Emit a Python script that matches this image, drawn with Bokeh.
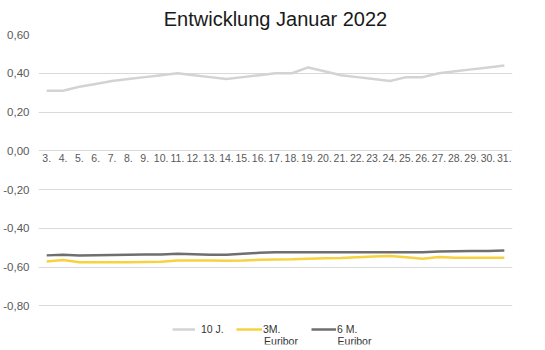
from bokeh.plotting import figure
from bokeh.models import FixedTicker, Legend, LegendItem, Label
from bokeh.core.properties import value
from bokeh.embed import file_html
from bokeh.resources import INLINE

days = [f"{d}." for d in range(3, 32)]
zehn_j = [0.31, 0.31, 0.33, 0.345, 0.36, 0.37, 0.38, 0.39, 0.40, 0.39, 0.38, 0.37, 0.38, 0.39,
          0.40, 0.40, 0.43, 0.41, 0.39, 0.38, 0.37, 0.36, 0.38, 0.38, 0.40, 0.41, 0.42, 0.43, 0.44]
euribor_3m = [-0.572, -0.564, -0.576, -0.576, -0.576, -0.575, -0.574, -0.573, -0.567, -0.566,
              -0.566, -0.568, -0.566, -0.563, -0.561, -0.560, -0.557, -0.555, -0.554, -0.550,
              -0.546, -0.543, -0.550, -0.557, -0.549, -0.552, -0.552, -0.552, -0.552]
euribor_6m = [-0.540, -0.537, -0.541, -0.539, -0.538, -0.537, -0.536, -0.535, -0.531, -0.534,
              -0.537, -0.537, -0.532, -0.527, -0.524, -0.524, -0.524, -0.524, -0.524, -0.524,
              -0.524, -0.524, -0.524, -0.524, -0.520, -0.519, -0.518, -0.517, -0.515]
y_ticks = [-0.8, -0.6, -0.4, -0.2, 0.0, 0.2, 0.4, 0.6]
y_labels = ["-0,80", "-0,60", "-0,40", "-0,20", "0,00", "0,20", "0,40", "0,60"]
series_first_line = ["10 J.", "3M.", "6 M."]
series_second_line = ["", "Euribor", "Euribor"]
title_text = "Entwicklung Januar 2022"

colors = ["#d3d3d3", "#f7d23e", "#6f6f6f"]
FONT = "Liberation Sans"

p = figure(width=545, height=350, x_range=days, y_range=(-1.0, 0.6),
           output_backend="svg", toolbar_location=None, title=title_text,
           min_border_left=37, min_border_right=33, min_border_top=34, min_border_bottom=6)
p.outline_line_color = None
p.background_fill_color = "white"
p.title.align = "center"
p.title.text_font = FONT
p.title.text_font_size = "20px"
p.title.text_font_style = "normal"
p.title.text_color = "#1a1a1a"
p.title.offset = -8

p.xgrid.grid_line_color = None
p.ygrid.grid_line_color = "#d9d9d9"
p.ygrid.grid_line_width = 1
p.yaxis.ticker = FixedTicker(ticks=y_ticks)
p.yaxis.major_label_overrides = {t: l for t, l in zip(y_ticks, y_labels)}
p.yaxis.axis_line_color = None
p.yaxis.major_tick_line_color = None
p.yaxis.minor_tick_line_color = None
p.yaxis.major_label_text_font = FONT
p.yaxis.major_label_text_font_size = "11.5px"
p.yaxis.major_label_text_color = "#595959"
p.yaxis.major_label_standoff = 3

p.xaxis.visible = False
p.text(x=days, y=[0.0] * len(days), text=days, text_font=value(FONT),
       text_font_size="10.5px", text_color="#595959", text_align="center",
       text_baseline="top", y_offset=3)

renderers = []
for vals, c in zip([zehn_j, euribor_3m, euribor_6m], colors):
    r = p.line(days, vals, line_color=c, line_width=2.5)
    renderers.append(r)

# legend: one small legend per series, placed like the original
legend_x = [134, 198, 273]
legend_glyph_w = [23, 26, 25]
legend_standoff = [6, 1, 1]
euribor_x = [0, 13.8, 18.3]
for i, r in enumerate(renderers):
    lg = Legend(items=[LegendItem(label=series_first_line[i], renderers=[r])],
                location=(legend_x[i], 9), border_line_color=None, background_fill_alpha=0,
                label_text_font=FONT, label_text_font_size="10.5px", label_text_color="#333333",
                glyph_width=legend_glyph_w[i], label_standoff=legend_standoff[i],
                padding=0, margin=0, label_height=10, glyph_height=12)
    p.add_layout(lg, "center")
    if series_second_line[i]:
        p.add_layout(Label(x=euribor_x[i], y=-0.98, text=series_second_line[i],
                           text_font=FONT, text_font_size="10.5px", text_color="#333333",
                           text_baseline="middle", text_align="left"))

open("out.html", "w").write(file_html(p, INLINE))
